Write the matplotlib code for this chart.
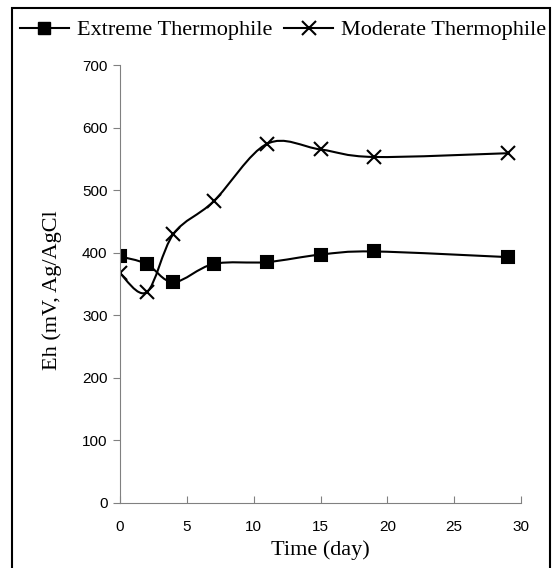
import numpy as np
import matplotlib.pyplot as plt
from matplotlib.path import Path
from matplotlib.patches import PathPatch, Rectangle
from matplotlib.lines import Line2D

days = [0, 2, 4, 7, 11, 15, 19, 29]
extreme = [394, 382, 353, 382, 385, 397, 402, 393]
moderate = [367, 337, 430, 482, 574, 565, 553, 559]

y_ticks = [0, 100, 200, 300, 400, 500, 600, 700]
x_ticks = [0, 5, 10, 15, 20, 25, 30]


def smooth_path(x, y):
    # bezier through the points, like a spreadsheet "smoothed line"
    pts = np.column_stack([x, y]).astype(float)
    n = len(pts)
    verts = [tuple(pts[0])]
    codes = [Path.MOVETO]
    for i in range(n - 1):
        p0 = pts[i - 1] if i > 0 else pts[i]
        p1 = pts[i]
        p2 = pts[i + 1]
        p3 = pts[i + 2] if i + 2 < n else pts[i + 1]
        c1 = p1 + (p2 - p0) / 6
        c2 = p2 - (p3 - p1) / 6
        verts += [tuple(c1), tuple(c2), tuple(p2)]
        codes += [Path.CURVE4] * 3
    return Path(verts, codes)


fig = plt.figure(figsize=(5.54, 5.68), dpi=100)
ax = fig.add_axes([120 / 554, 1 - 503 / 568, 401 / 554, 438 / 568])

for vals, mk, ms in [(extreme, "s", 8), (moderate, "x", 10)]:
    ax.add_patch(PathPatch(smooth_path(days, vals), facecolor="none", edgecolor="black", lw=1.5))
    ax.plot(days, vals, linestyle="none", marker=mk, color="black", ms=ms, mew=1.5)

ax.set_xlim(0, 30)
ax.set_ylim(0, 700)
ax.set_xticks(x_ticks)
ax.set_yticks(y_ticks)
for s in ["top", "right"]:
    ax.spines[s].set_visible(False)
for s in ["left", "bottom"]:
    ax.spines[s].set_color("#808080")
ax.tick_params(axis="x", direction="in", length=5, color="#808080", pad=12)
ax.tick_params(axis="y", direction="out", length=5, color="#808080", pad=4)
for lab in ax.get_xticklabels() + ax.get_yticklabels():
    lab.set_fontfamily("Liberation Sans")
    lab.set_fontsize(11)

fig.text(320 / 554, 1 - 550 / 568, "Time (day)", ha="center", va="center",
         fontfamily="Liberation Serif", fontsize=16)
fig.text(52 / 554, 1 - 290 / 568, "Eh (mV, Ag/AgCl", ha="center", va="center",
         rotation=90, fontfamily="Liberation Serif", fontsize=16)

handles = [Line2D([], [], color="black", lw=1.5, marker="s", ms=8),
           Line2D([], [], color="black", lw=1.5, marker="x", ms=10, mew=1.5)]
fig.legend(handles, ["Extreme Thermophile", "Moderate Thermophile"], ncol=2,
           loc="center", bbox_to_anchor=(283 / 554, 1 - 30 / 568), frameon=False,
           prop={"family": "Liberation Serif", "size": 16}, handlelength=2.2,
           handletextpad=0.36, columnspacing=0.55, borderpad=0)

fig.add_artist(Rectangle((12 / 554, -0.05), 538 / 554, 1.05 - 8 / 568, transform=fig.transFigure,
                         fill=False, edgecolor="black", lw=1.5))

fig.savefig("out.png", dpi=100)
